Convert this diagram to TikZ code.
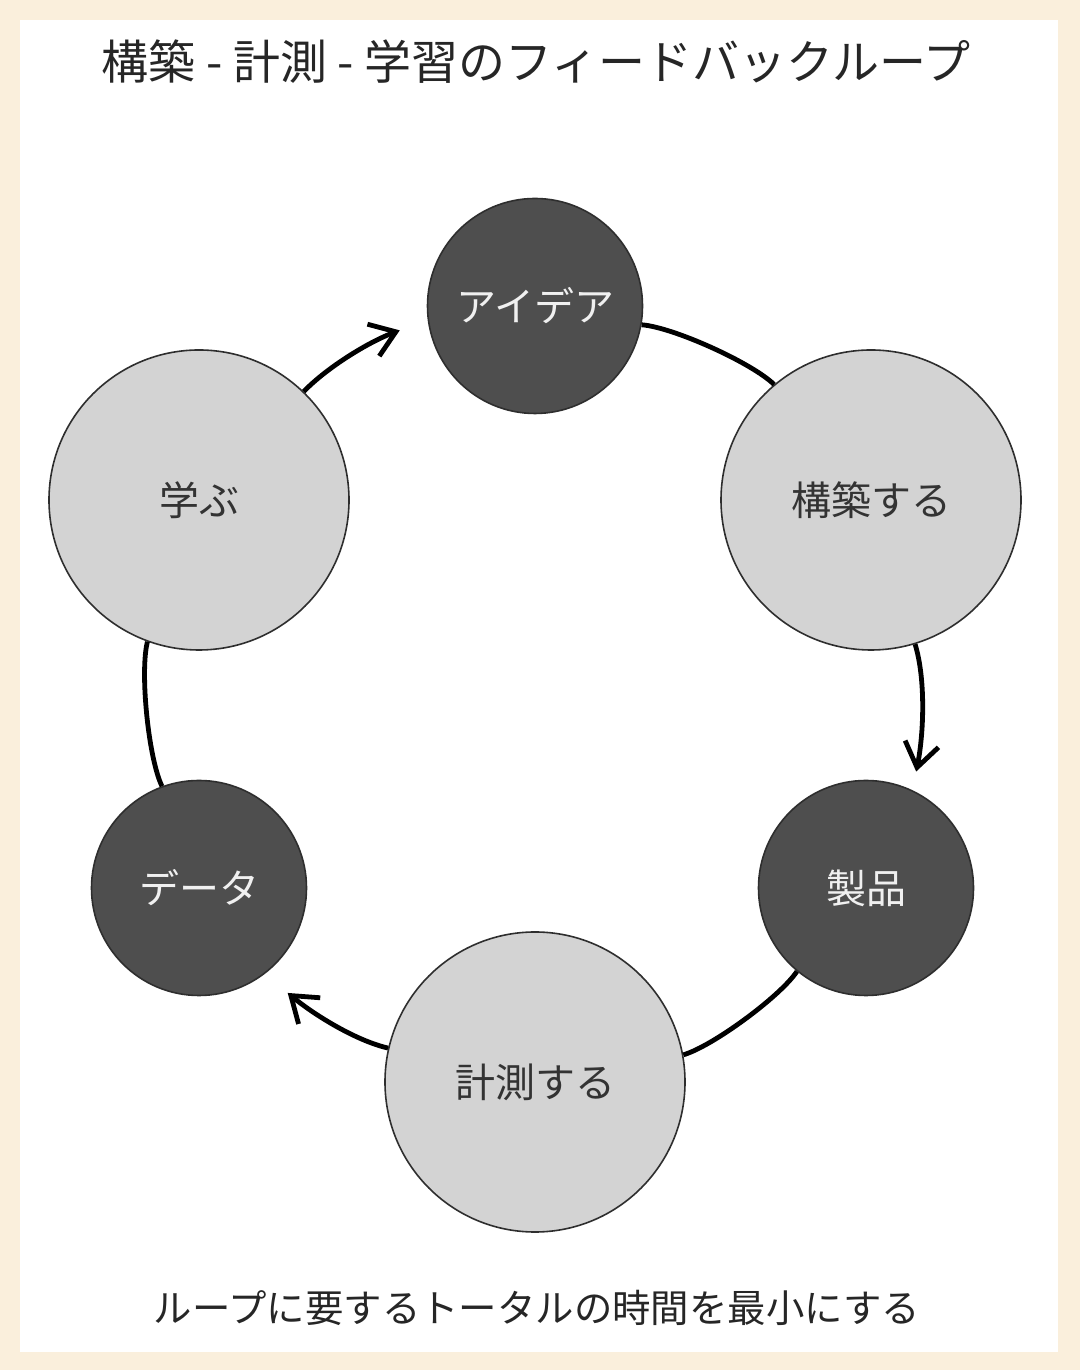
\documentclass[tikz,border=0pt]{standalone}
\usepackage{fontspec}
\setmainfont{Noto Sans CJK JP}
\usepackage{tikz}
\usetikzlibrary{arrows.meta}
\definecolor{cream}{HTML}{FAEFDC}
\definecolor{darkfill}{HTML}{4E4E4E}
\definecolor{lightfill}{HTML}{D3D3D3}
\definecolor{rim}{HTML}{2E2E2E}
\tikzstyle{bigstage} = [circle, draw=rim, line width=0.8pt, fill=lightfill,
                 minimum size=150pt, inner sep=0pt, text=black!80, font=\fontsize{20}{24}\selectfont]
\tikzstyle{smallstage} = [circle, draw=rim, line width=0.8pt, fill=darkfill,
                 minimum size=107.5pt, inner sep=0pt, text=white!94!black, font=\fontsize{20}{24}\selectfont]
\tikzstyle{link} = [line width=2.4pt, draw]
\tikzset{
	flow/.style={link, -{Straight Barb[length=12pt,width=17pt]}},
	caption/.style={text=black!85, inner sep=0pt},
}

\begin{document}
\begin{tikzpicture}[x=0.5pt,y=0.5pt]

\fill [cream] (0,0) rectangle (1080,1370);
\fill [white] (20,18) rectangle (1058,1350);

\node [caption, font=\fontsize{23.5}{28}\selectfont] at (536,1308) (title)
	{構築 - 計測 - 学習のフィードバックループ};
\node [caption, font=\fontsize{19.2}{24}\selectfont] at (537,62) (goal)
	{ループに要するトータルの時間を最小にする};

% stages round the loop
\coordinate (hub) at (535,676);
\node [smallstage] at (535,1064) (idea) {アイデア};
\node [bigstage] at (871,870) (build) {構築する};
\node [smallstage] at (866,482) (product) {製品};
\node [bigstage] at (535,288) (measure) {計測する};
\node [smallstage] at (199,482) (data) {データ};
\node [bigstage] at (199,870) (learn) {学ぶ};

% arrow tips stop short of the next stage
\coordinate (product in) at ([shift={(hub)}]-11.5:389);
\coordinate (data in) at ([shift={(hub)}]230.4:388);
\coordinate (idea in) at ([shift={(hub)}]110.4:388);

\path [link] (idea) to[bend left=20, looseness=0.55] (build);
\path [flow] (build) to[out=-73, in=78.5, looseness=0.75] (product in);
\path [link] (product) to[bend left=20, looseness=0.55] (measure);
\path [flow] (measure) to[out=167, in=-39.6, looseness=0.75] (data in);
\path [link] (data) to[bend left=20, looseness=0.55] (learn);
\path [flow] (learn) to[out=46, in=200.4, looseness=0.75] (idea in);

\end{tikzpicture}
\end{document}
